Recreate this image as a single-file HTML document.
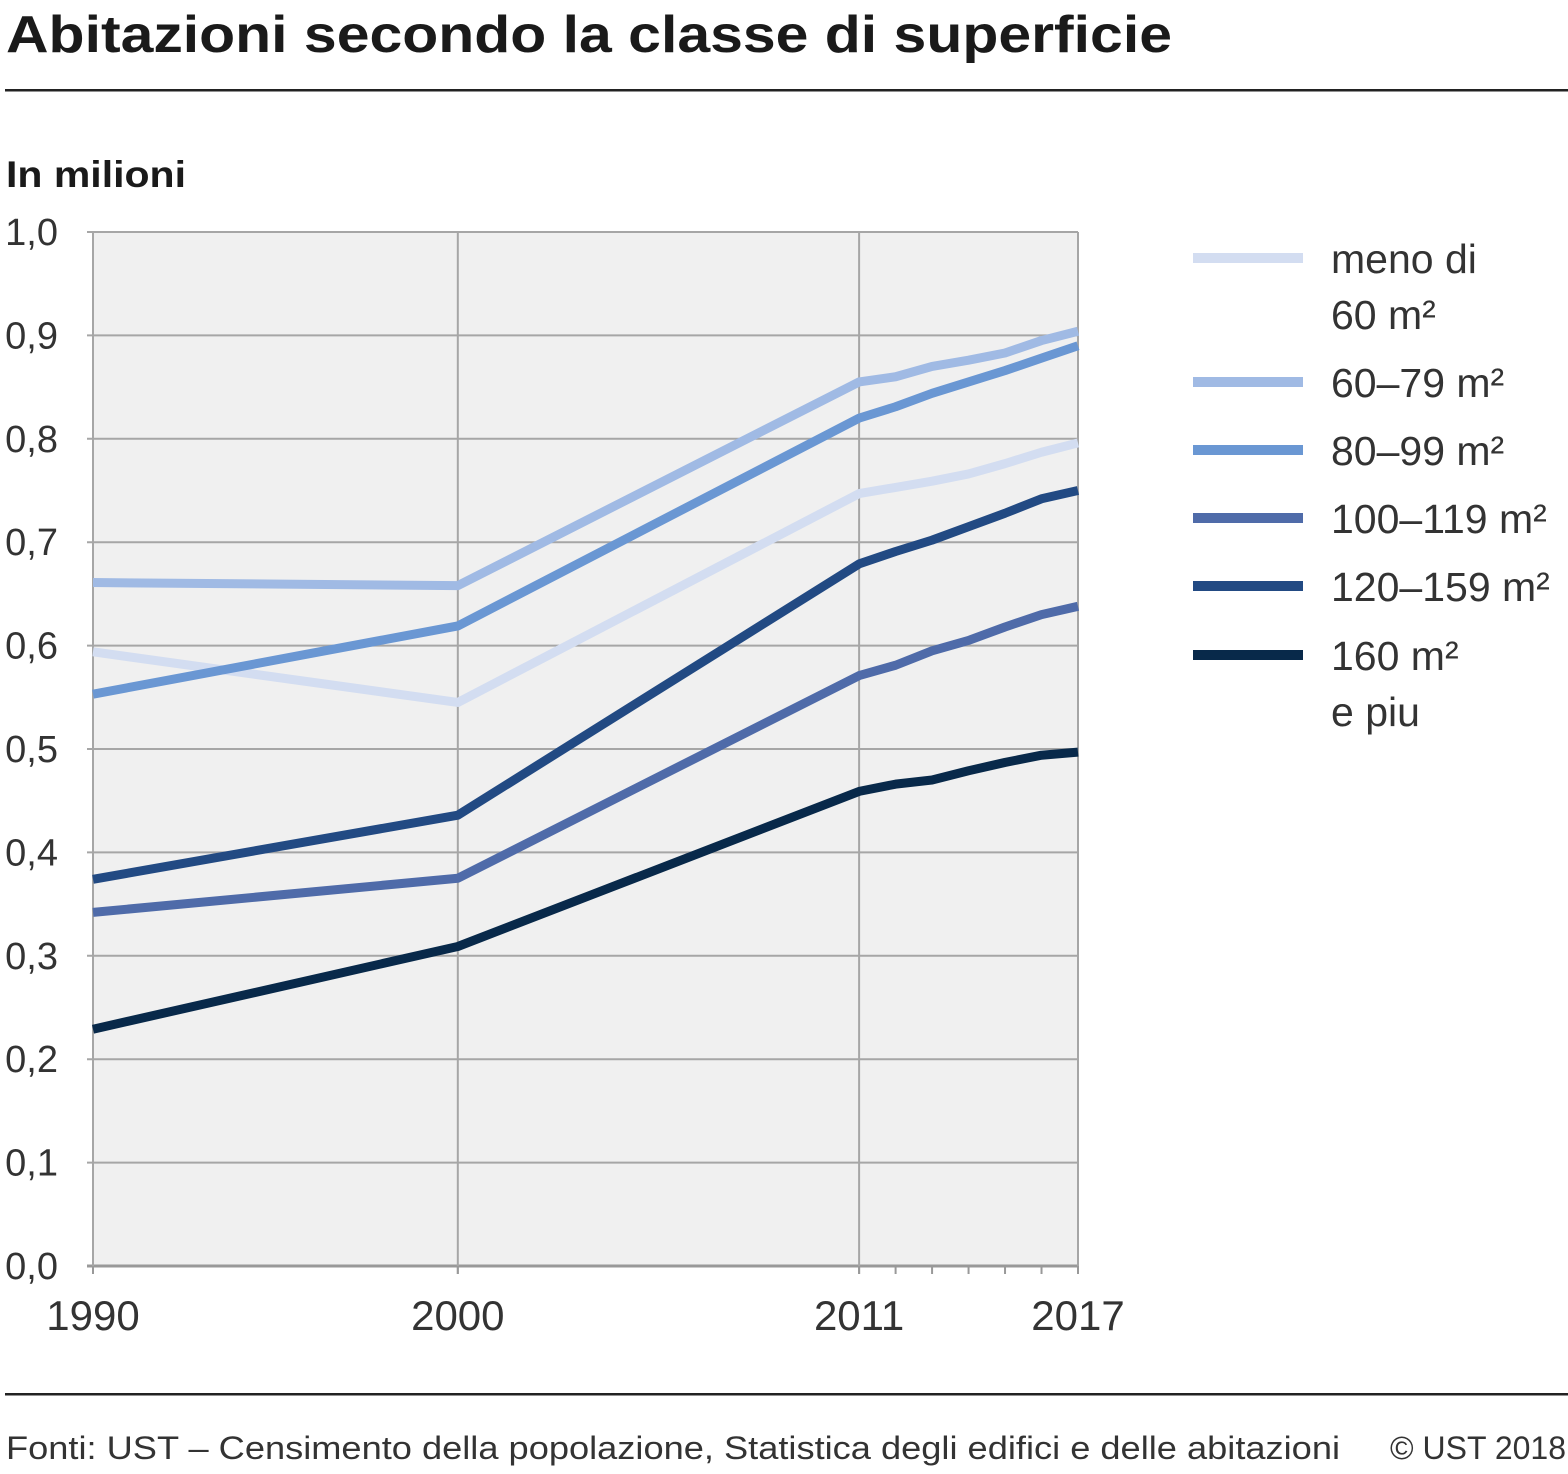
<!DOCTYPE html>
<html><head><meta charset="utf-8"><style>
body{margin:0;background:#fff;font-family:"Liberation Sans",sans-serif;}
svg text{font-family:"Liberation Sans",sans-serif;}
</style></head><body>
<svg width="1568" height="1469" xmlns="http://www.w3.org/2000/svg">
<text x="6" y="52" font-size="52" font-weight="bold" fill="#1a1a1a" textLength="1166" lengthAdjust="spacingAndGlyphs">Abitazioni secondo la classe di superficie</text>
<rect x="5" y="89" width="1563" height="2.5" fill="#222"/>
<text x="6" y="187" font-size="37" font-weight="bold" fill="#1a1a1a" textLength="180" lengthAdjust="spacingAndGlyphs">In milioni</text>
<rect x="93" y="232" width="985" height="1034" fill="#f0f0f0"/>
<g id="grid"></g><g id="lines"></g><g id="legend"></g>
<rect x="5" y="1393" width="1563" height="2.5" fill="#222"/>
<text x="6" y="1459" font-size="32" fill="#333" textLength="1334" lengthAdjust="spacingAndGlyphs">Fonti: UST – Censimento della popolazione, Statistica degli edifici e delle abitazioni</text>
<text x="1566" y="1459" font-size="32" fill="#333" text-anchor="end">© UST 2018</text>
</svg>
<script>
const years=[1990,2000,2011,2012,2013,2014,2015,2016,2017];
const yTicks=[0,0.1,0.2,0.3,0.4,0.5,0.6,0.7,0.8,0.9,1.0];
const xLabels=[1990,2000,2011,2017];
const seriesNames=["meno di|60 m²","60–79 m²","80–99 m²","100–119 m²","120–159 m²","160 m²|e piu"];
const sLt60=[0.594,0.545,0.747,0.753,0.759,0.766,0.776,0.787,0.796];
const s60=[0.661,0.658,0.855,0.860,0.870,0.876,0.883,0.895,0.904];
const s80=[0.553,0.619,0.820,0.831,0.844,0.855,0.866,0.878,0.890];
const s100=[0.342,0.375,0.571,0.581,0.595,0.605,0.618,0.630,0.638];
const s120=[0.374,0.436,0.679,0.691,0.702,0.715,0.728,0.742,0.750];
const s160=[0.229,0.309,0.459,0.466,0.470,0.479,0.487,0.494,0.497];
const series=[sLt60,s60,s80,s100,s120,s160];
const colors=["#d3ddf1","#a0bae4","#6a97d3","#4f6ba9","#224a83","#08294a"];
const NS="http://www.w3.org/2000/svg";
const X=y=>93+(y-1990)*(985/27), Y=v=>1266-v*1034;
function mk(t,a,p){const e=document.createElementNS(NS,t);for(const k in a)e.setAttribute(k,a[k]);p.appendChild(e);return e;}
const g=document.getElementById('grid');
yTicks.forEach(v=>{
 const l=mk('line',{x1:87,x2:1078,y1:Y(v),y2:Y(v),stroke:v===0?'#999':'#a6a6a6','stroke-width':v===0?3:2},g);
 
 
 const t=mk('text',{x:58,y:Y(v)+13,'font-size':38,fill:'#333','text-anchor':'end'},g);
 t.textContent=v.toFixed(1).replace('.',',');
 
 
});
[1990,2000,2011,2017].forEach(y=>{
 const l=mk('line',{x1:X(y),x2:X(y),y1:232,y2:1274,stroke:'#a6a6a6','stroke-width':2},g);
 
 
});
years.forEach(y=>{
 const l=mk('line',{x1:X(y),x2:X(y),y1:1266,y2:1274,stroke:'#999','stroke-width':2},g);
 
 
});
xLabels.forEach(y=>{
 const t=mk('text',{x:X(y),y:1330,'font-size':42,fill:'#333','text-anchor':'middle'},g);
 t.textContent=y;
 
 
});
const lg=document.getElementById('lines');
series.forEach((s,i)=>{
 const p=mk('polyline',{points:s.map((v,j)=>X(years[j])+','+Y(v)).join(' '),fill:'none',stroke:colors[i],'stroke-width':9,'stroke-linejoin':'round'},lg);
 
 
});
const leg=document.getElementById('legend');
const ly=[258,382,450,518,586,655];
seriesNames.forEach((n,i)=>{
 const l=mk('line',{x1:1193,x2:1303,y1:ly[i],y2:ly[i],stroke:colors[i],'stroke-width':10},leg);
 
 
 n.split('|').forEach((part,k)=>{
  const t=mk('text',{x:1331,y:ly[i]+15+k*56,'font-size':41,fill:'#333'},leg);
  t.textContent=part;
  
  
 });
});
</script>
</body></html>
